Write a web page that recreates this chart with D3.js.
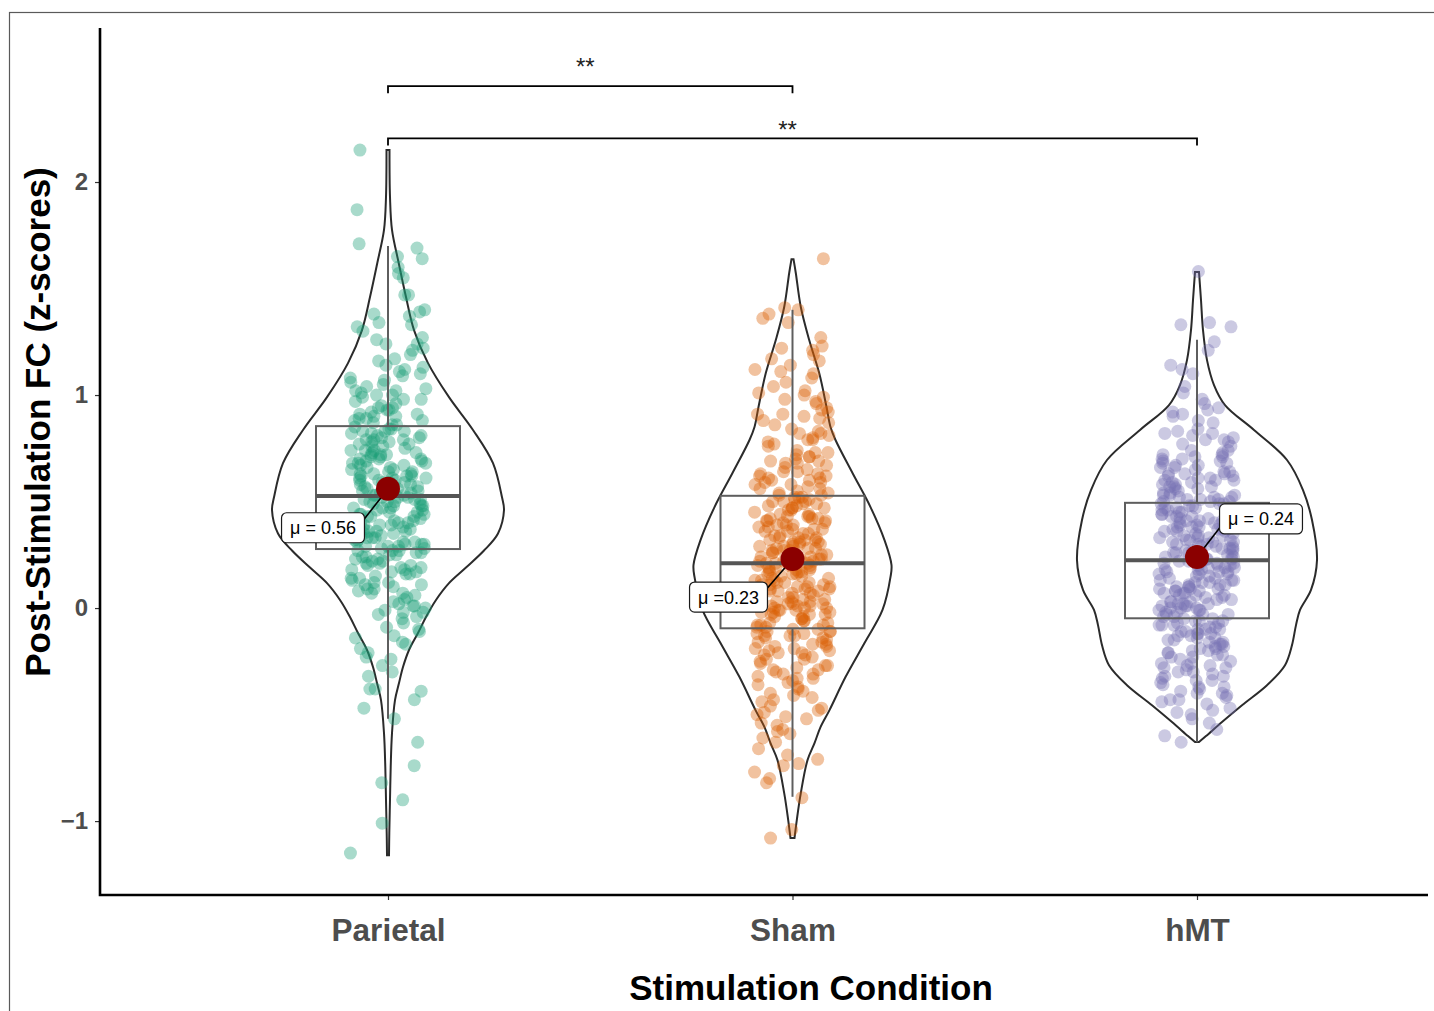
<!DOCTYPE html>
<html>
<head>
<meta charset="utf-8">
<script src="https://cdn.jsdelivr.net/npm/d3@7"></script>
<style>
  html, body { margin: 0; padding: 0; background: #ffffff; }
  svg { display: block; }
  text { font-family: "Liberation Sans", Arial, Helvetica, sans-serif; }
</style>
</head>
<body>
<svg id="chart" width="1434" height="1011"></svg>
<script>
// ---- data ----
const categories = ["Parietal", "Sham", "hMT"];
const groupColors = ["#1b9e77", "#d95f02", "#7570b3"];

const parietalValues = [
  2.15,1.87,1.71,1.69,1.65,1.64,1.60,1.57,1.55,1.47,1.47,1.40,1.39,1.38,1.37,1.34,1.33,1.32,1.30,1.27,1.24,1.26,
  1.22,1.19,1.17,1.16,1.21,1.24,
  1.14,1.12,1.11,1.09,1.08,1.06,1.13,1.10,1.07,1.05,
  1.04,1.03,1.02,1.01,1.00,0.99,0.98,0.97,0.96,0.95,1.02,0.98,1.00,
  0.94,0.93,0.93,0.92,0.91,0.90,0.90,0.89,0.88,0.88,0.87,0.86,0.86,0.85,0.94,0.91,0.89,
  0.84,0.84,0.83,0.83,0.82,0.82,0.81,0.80,0.80,0.79,0.79,0.78,0.78,0.77,0.77,0.76,0.76,0.75,0.81,0.83,0.79,
  0.74,0.74,0.73,0.73,0.72,0.72,0.71,0.71,0.70,0.70,0.69,0.69,0.68,0.68,0.67,0.67,0.66,0.66,0.65,0.65,0.72,0.70,0.68,0.74,
  0.64,0.64,0.63,0.63,0.62,0.62,0.61,0.61,0.60,0.60,0.59,0.59,0.58,0.58,0.57,0.57,0.56,0.56,0.55,0.55,0.63,0.61,0.59,0.57,0.62,0.60,
  0.54,0.54,0.53,0.53,0.53,0.52,0.52,0.51,0.51,0.50,0.50,0.49,0.49,0.48,0.48,0.47,0.47,0.46,0.46,0.45,0.45,0.52,0.50,0.48,0.54,0.51,0.47,
  0.44,0.44,0.43,0.43,0.42,0.42,0.41,0.41,0.40,0.40,0.39,0.39,0.38,0.38,0.37,0.37,0.36,0.36,0.35,0.35,0.43,0.41,0.39,0.37,0.44,0.40,0.36,
  0.34,0.34,0.33,0.33,0.32,0.32,0.31,0.31,0.30,0.30,0.29,0.29,0.28,0.28,0.27,0.27,0.26,0.26,0.25,0.25,0.33,0.31,0.29,0.27,0.30,
  0.24,0.24,0.23,0.22,0.22,0.21,0.20,0.20,0.19,0.19,0.18,0.17,0.17,0.16,0.15,0.23,0.21,0.18,0.16,
  0.14,0.14,0.13,0.12,0.11,0.11,0.10,0.09,0.08,0.07,0.06,0.05,0.12,0.09,0.07,
  0.04,0.03,0.02,0.01,0.00,-0.01,-0.02,-0.03,-0.04,0.01,-0.02,
  -0.05,-0.07,-0.09,-0.10,-0.11,-0.13,-0.14,-0.16,
  -0.17,-0.19,-0.21,-0.23,-0.24,
  -0.27,-0.30,-0.32,-0.38,-0.38,-0.39,-0.43,-0.47,-0.52,-0.63,-0.74,-0.82,-0.90,-1.01,-1.15
];

const shamValues = [
  1.64,1.41,1.40,1.38,1.36,1.34,1.27,1.23,
  1.21,1.19,1.17,1.16,1.22,
  1.14,1.12,1.10,1.08,1.06,1.11,
  1.04,1.02,1.01,0.99,0.98,0.97,0.96,1.00,
  0.94,0.93,0.92,0.91,0.90,0.89,0.88,0.87,0.86,0.91,
  0.84,0.83,0.82,0.81,0.80,0.79,0.78,0.77,0.76,0.82,0.79,
  0.74,0.73,0.73,0.72,0.71,0.70,0.69,0.69,0.68,0.67,0.66,0.65,0.71,0.68,
  0.64,0.64,0.63,0.62,0.62,0.61,0.60,0.60,0.59,0.58,0.58,0.57,0.56,0.56,0.55,0.63,0.61,0.59,
  0.54,0.54,0.53,0.53,0.52,0.52,0.51,0.51,0.50,0.50,0.49,0.49,0.48,0.48,0.47,0.47,0.46,0.46,0.45,0.52,0.50,0.47,
  0.44,0.44,0.43,0.43,0.42,0.42,0.41,0.41,0.40,0.40,0.39,0.39,0.38,0.38,0.37,0.37,0.36,0.36,0.35,0.35,0.43,0.41,0.39,0.37,0.42,
  0.34,0.34,0.33,0.33,0.32,0.32,0.31,0.31,0.30,0.30,0.29,0.29,0.28,0.28,0.27,0.27,0.26,0.26,0.25,0.25,0.33,0.31,0.29,0.27,0.32,0.30,0.28,
  0.24,0.24,0.23,0.23,0.22,0.22,0.21,0.21,0.20,0.20,0.19,0.19,0.18,0.18,0.17,0.17,0.16,0.16,0.15,0.15,0.23,0.21,0.19,0.17,0.22,0.20,0.18,0.16,0.24,
  0.14,0.14,0.13,0.13,0.12,0.12,0.11,0.11,0.10,0.10,0.09,0.09,0.08,0.08,0.07,0.07,0.06,0.06,0.05,0.05,0.13,0.11,0.09,0.07,0.12,0.10,0.08,0.06,
  0.04,0.04,0.03,0.03,0.02,0.02,0.01,0.01,0.00,0.00,-0.01,-0.01,-0.02,-0.02,-0.03,-0.03,-0.04,-0.04,-0.05,0.03,0.01,-0.01,-0.03,0.02,0.00,-0.02,
  -0.05,-0.06,-0.06,-0.07,-0.07,-0.08,-0.08,-0.09,-0.09,-0.10,-0.10,-0.11,-0.11,-0.12,-0.12,-0.13,-0.13,-0.14,-0.14,-0.08,-0.11,-0.13,
  -0.15,-0.16,-0.16,-0.17,-0.18,-0.18,-0.19,-0.20,-0.20,-0.21,-0.22,-0.22,-0.23,-0.24,-0.24,-0.17,-0.19,-0.21,
  -0.25,-0.26,-0.27,-0.28,-0.29,-0.30,-0.31,-0.32,-0.33,-0.34,-0.27,-0.29,-0.31,-0.33,
  -0.35,-0.36,-0.38,-0.39,-0.40,-0.41,-0.42,-0.44,-0.37,-0.43,
  -0.46,-0.47,-0.49,-0.50,-0.52,-0.54,-0.48,-0.51,
  -0.55,-0.57,-0.59,-0.61,-0.63,-0.58,
  -0.66,-0.69,-0.71,-0.73,-0.74,
  -0.77,-0.80,-0.82,-0.89,-1.04,-1.08
];

const hmtValues = [
  1.58,1.34,1.33,1.32,1.21,1.25,1.14,1.12,1.10,
  1.04,1.01,0.98,0.96,
  0.94,0.93,0.91,0.90,0.88,0.87,0.92,
  0.84,0.83,0.82,0.81,0.80,0.79,0.78,0.77,0.76,0.82,0.79,
  0.74,0.74,0.73,0.72,0.72,0.71,0.70,0.70,0.69,0.68,0.68,0.67,0.66,0.66,0.65,0.71,0.69,0.67,
  0.64,0.64,0.63,0.63,0.62,0.62,0.61,0.61,0.60,0.60,0.59,0.59,0.58,0.58,0.57,0.57,0.56,0.56,0.55,0.63,0.60,0.57,
  0.54,0.54,0.53,0.53,0.52,0.52,0.51,0.51,0.50,0.50,0.49,0.49,0.48,0.48,0.47,0.47,0.46,0.46,0.45,0.45,0.53,0.51,0.49,0.47,0.52,0.50,
  0.44,0.44,0.43,0.43,0.42,0.42,0.41,0.41,0.40,0.40,0.39,0.39,0.38,0.38,0.37,0.37,0.36,0.36,0.35,0.35,0.43,0.41,0.39,0.37,0.42,0.40,0.38,0.36,
  0.34,0.34,0.33,0.33,0.32,0.32,0.31,0.31,0.30,0.30,0.29,0.29,0.28,0.28,0.27,0.27,0.26,0.26,0.25,0.25,0.33,0.31,0.29,0.27,0.32,0.30,0.28,0.26,0.34,
  0.24,0.24,0.23,0.23,0.22,0.22,0.21,0.21,0.20,0.20,0.19,0.19,0.18,0.18,0.17,0.17,0.16,0.16,0.15,0.15,0.23,0.21,0.19,0.17,0.22,0.20,0.18,0.16,0.24,
  0.14,0.14,0.13,0.13,0.12,0.12,0.11,0.11,0.10,0.10,0.09,0.09,0.08,0.08,0.07,0.07,0.06,0.06,0.05,0.05,0.13,0.11,0.09,0.07,0.12,0.10,0.08,0.06,
  0.04,0.04,0.03,0.03,0.02,0.02,0.01,0.01,0.00,0.00,-0.01,-0.01,-0.02,-0.02,-0.03,-0.03,-0.04,-0.04,-0.05,-0.05,0.03,0.01,-0.01,-0.03,0.02,0.00,
  -0.06,-0.06,-0.07,-0.07,-0.08,-0.08,-0.09,-0.09,-0.10,-0.10,-0.11,-0.11,-0.12,-0.12,-0.13,-0.13,-0.14,-0.14,-0.06,-0.08,-0.10,-0.12,
  -0.15,-0.15,-0.16,-0.16,-0.17,-0.17,-0.18,-0.18,-0.19,-0.19,-0.20,-0.20,-0.21,-0.21,-0.22,-0.22,-0.23,-0.23,-0.24,
  -0.25,-0.26,-0.27,-0.28,-0.29,-0.30,-0.31,-0.32,-0.33,-0.34,-0.26,-0.28,-0.30,-0.32,-0.34,-0.27,
  -0.35,-0.36,-0.37,-0.38,-0.39,-0.40,-0.41,-0.42,-0.43,-0.44,-0.37,-0.40,-0.43,
  -0.45,-0.47,-0.49,-0.50,-0.52,-0.54,-0.48,
  -0.57,-0.60,-0.63
];

// violin outlines: [value, density]
const parietalDensity = [
  [2.15,0.015],[1.93,0.02],[1.775,0.04],[1.62,0.107],[1.46,0.18],[1.305,0.26],[1.15,0.40],
  [0.99,0.61],[0.836,0.85],[0.68,1.05],[0.52,1.14],[0.46,1.16],[0.35,1.10],[0.27,0.96],
  [0.19,0.78],[0.117,0.61],[0.038,0.48],[-0.042,0.38],[-0.117,0.30],[-0.197,0.21],
  [-0.277,0.15],[-0.352,0.11],[-0.432,0.07],[-0.587,0.04],[-0.746,0.027],[-0.90,0.02],
  [-1.056,0.013],[-1.16,0.01]
];
const shamDensity = [
  [1.638,0.01],[1.573,0.033],[1.413,0.083],[1.258,0.167],[1.103,0.267],[0.944,0.34],
  [0.85,0.38],[0.789,0.43],[0.634,0.60],[0.474,0.78],[0.319,0.92],[0.202,0.99],[0.146,0.98],
  [-0.009,0.90],[-0.164,0.72],[-0.324,0.53],[-0.479,0.37],[-0.559,0.28],[-0.634,0.22],
  [-0.714,0.15],[-0.869,0.083],[-0.995,0.043],[-1.08,0.02]
];
const hmtDensity = [
  [1.577,0.02],[1.446,0.04],[1.305,0.06],[1.164,0.10],[1.047,0.17],[0.953,0.28],[0.836,0.57],
  [0.695,0.90],[0.554,1.06],[0.413,1.15],[0.225,1.20],[0.085,1.14],[-0.009,1.03],[-0.080,0.99],
  [-0.174,0.95],[-0.268,0.88],[-0.362,0.70],[-0.456,0.45],[-0.535,0.25],[-0.601,0.09],[-0.629,0.02]
];

// box plot summaries
const q1 = [0.277, -0.095, -0.048];
const medians = [0.526, 0.21, 0.225];
const q3 = [0.854, 0.527, 0.494];
const whiskerLow = [-0.52, -0.886, -0.63];
const whiskerHigh = [1.70, 1.40, 1.26];

// group means
const means = [0.56, 0.23, 0.24];
const meanLabelPrefix = ["\u03bc = ", "\u03bc =", "\u03bc = "];

const yTicks = [-1, 0, 1, 2];

// pairwise comparisons
const comparisons = [["Parietal", "Sham"], ["Parietal", "hMT"]];
const comparisonY = [2.45, 2.205];
const comparisonLabels = ["**", "**"];

const groupValues = [parietalValues, shamValues, hmtValues];
const groupDensity = [parietalDensity, shamDensity, hmtDensity];

// ---- layout ----
const svg = d3.select("#chart");
const axisLeftX = 100, axisBottomY = 895, axisRightX = 1428;

const x = d3.scalePoint().domain(categories).range([388, 1197]);
const y = d3.scaleLinear().domain([-1.347, 2.723]).range([axisBottomY, 28]);

const densityScale = 100;   // px per density unit
const boxHalf = 72;
const jitterHalf = 38;

// drawing layers, back to front
const frameLayer = svg.append("g");
const violinLayer = svg.append("g");
const pointLayer = svg.append("g");
const boxLayer = svg.append("g");
const connectorLayer = svg.append("g");
const meanLayer = svg.append("g");
const labelLayer = svg.append("g");
const bracketLayer = svg.append("g");
const axisLayer = svg.append("g");

// outer frame
frameLayer.append("rect")
  .attr("x", 9.5).attr("y", 12.5)
  .attr("width", 1440).attr("height", 1020)
  .attr("fill", "none").attr("stroke", "#5a5a5a").attr("stroke-width", 1.2);

// violins
const violinArea = d3.area()
  .y(d => y(d[0]))
  .x0(d => d.cx - d[1] * densityScale)
  .x1(d => d.cx + d[1] * densityScale)
  .curve(d3.curveCatmullRom.alpha(0.5));

categories.forEach((c, i) => {
  const cx = x(c);
  const pts = groupDensity[i].map(d => { const p = [d[0], d[1]]; p.cx = cx; return p; });
  violinLayer.append("path")
    .attr("d", violinArea(pts))
    .attr("fill", "none")
    .attr("stroke", "#2b2b2b")
    .attr("stroke-width", 2);
});

// jittered observations
const jitter = d3.randomUniform.source(d3.randomLcg(0.2718))(-jitterHalf, jitterHalf);
categories.forEach((c, i) => {
  const cx = x(c);
  pointLayer.append("g")
    .selectAll("circle")
    .data(groupValues[i])
    .join("circle")
    .attr("cx", () => cx + jitter())
    .attr("cy", d => y(d))
    .attr("r", 6.5)
    .attr("fill", groupColors[i])
    .attr("fill-opacity", 0.38);
});

// box plots
categories.forEach((c, i) => {
  const cx = x(c);
  const g = boxLayer.append("g").attr("stroke", "#5e5e5e").attr("fill", "none");
  g.append("line").attr("x1", cx).attr("x2", cx)
    .attr("y1", y(q3[i])).attr("y2", y(whiskerHigh[i])).attr("stroke-width", 2);
  g.append("line").attr("x1", cx).attr("x2", cx)
    .attr("y1", y(q1[i])).attr("y2", y(whiskerLow[i])).attr("stroke-width", 2);
  g.append("rect")
    .attr("x", cx - boxHalf).attr("width", boxHalf * 2)
    .attr("y", y(q3[i])).attr("height", y(q1[i]) - y(q3[i]))
    .attr("stroke-width", 2);
  g.append("line")
    .attr("x1", cx - boxHalf).attr("x2", cx + boxHalf)
    .attr("y1", y(medians[i])).attr("y2", y(medians[i]))
    .attr("stroke", "#555555").attr("stroke-width", 4);
});

// mean markers, labels and connectors
const labelOffset = [[-65, 39], [-64, 38], [64, -38]];
const fmt = d3.format(".2f");
categories.forEach((c, i) => {
  const mx = x(c), my = y(means[i]);
  const lx = mx + labelOffset[i][0], ly = my + labelOffset[i][1];

  meanLayer.append("circle")
    .attr("cx", mx).attr("cy", my)
    .attr("r", 12)
    .attr("fill", "#8b0000");

  const g = labelLayer.append("g");
  const rect = g.append("rect");
  const t = g.append("text")
    .attr("x", lx).attr("y", ly)
    .attr("dy", "0.36em")
    .attr("text-anchor", "middle")
    .attr("font-size", 18)
    .attr("fill", "#000")
    .text(meanLabelPrefix[i] + fmt(means[i]));
  const tw = t.node().getComputedTextLength();
  const w = tw + 17, h = 30;
  const rx0 = lx - w / 2, ry0 = ly - h / 2;
  rect.attr("x", rx0).attr("y", ry0).attr("width", w).attr("height", h)
    .attr("rx", 5).attr("fill", "#fff").attr("stroke", "#1a1a1a").attr("stroke-width", 1.2);

  // connector toward the near corner of the label
  const px = Math.max(rx0, Math.min(mx, rx0 + w));
  let py = Math.max(ry0, Math.min(my, ry0 + h));
  py += (ly > py ? 6 : -6);
  connectorLayer.append("line")
    .attr("x1", mx).attr("y1", my).attr("x2", px).attr("y2", py)
    .attr("stroke", "#000").attr("stroke-width", 1.6);
});

// significance brackets
const tip = 0.033;
const starLift = [11, 0];
comparisons.forEach((pair, i) => {
  const x1 = x(pair[0]), x2 = x(pair[1]);
  const yy = y(comparisonY[i]), yt = y(comparisonY[i] - tip);
  bracketLayer.append("path")
    .attr("d", `M${x1},${yt}V${yy}H${x2}V${yt}`)
    .attr("fill", "none").attr("stroke", "#000").attr("stroke-width", 1.8);
  bracketLayer.append("text")
    .attr("x", (x1 + x2) / 2 - 5).attr("y", yy - starLift[i])
    .attr("text-anchor", "middle")
    .attr("font-size", 24)
    .attr("fill", "#222")
    .text(comparisonLabels[i]);
});

// axes
const yAxis = axisLayer.append("g")
  .attr("transform", `translate(${axisLeftX},0)`)
  .call(d3.axisLeft(y).tickValues(yTicks).tickSize(5).tickPadding(7)
        .tickSizeOuter(0).tickFormat(d3.format("d")));
yAxis.select(".domain").remove();
yAxis.selectAll(".tick line").attr("stroke", "#333").attr("stroke-width", 1.2);
yAxis.selectAll(".tick text")
  .attr("font-size", 24).attr("font-weight", "bold").attr("fill", "#4d4d4d")
  .style("font-family", '"Liberation Sans", Arial, sans-serif');

const xAxis = axisLayer.append("g")
  .attr("transform", `translate(0,${axisBottomY})`)
  .call(d3.axisBottom(x).tickSize(5).tickPadding(19).tickSizeOuter(0));
xAxis.select(".domain").remove();
xAxis.selectAll(".tick line").attr("stroke", "#333").attr("stroke-width", 1.2);
xAxis.selectAll(".tick text")
  .attr("font-size", 31.5).attr("font-weight", "bold").attr("fill", "#4d4d4d")
  .style("font-family", '"Liberation Sans", Arial, sans-serif');

axisLayer.append("path")
  .attr("d", `M${axisLeftX},${y.range()[1]}V${axisBottomY}H${axisRightX}`)
  .attr("fill", "none").attr("stroke", "#000").attr("stroke-width", 2.6)
  .attr("stroke-linejoin", "miter");

// axis titles
axisLayer.append("text")
  .attr("x", 811).attr("y", 1000)
  .attr("text-anchor", "middle")
  .attr("font-size", 35).attr("font-weight", "bold").attr("fill", "#000")
  .text("Stimulation Condition");

axisLayer.append("text")
  .attr("transform", "translate(50,422) rotate(-90)")
  .attr("text-anchor", "middle")
  .attr("font-size", 35).attr("font-weight", "bold").attr("fill", "#000")
  .text("Post-Stimulation FC (z-scores)");
</script>
</body>
</html>
